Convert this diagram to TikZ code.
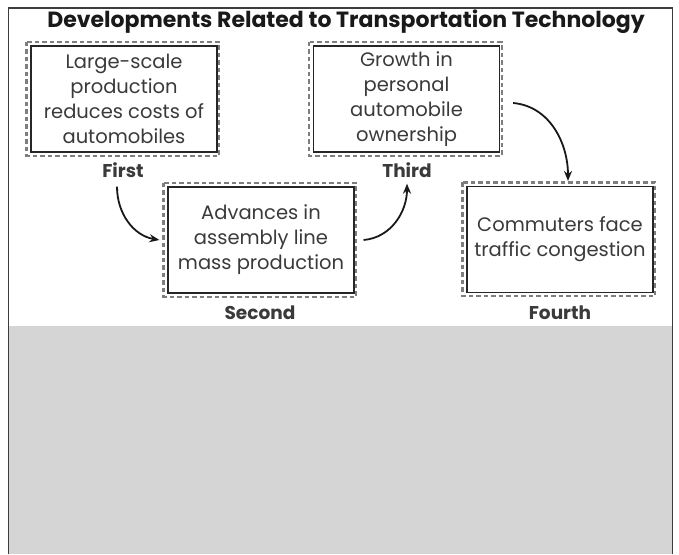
\documentclass[tikz,border=0pt]{standalone}
\usepackage{fontspec}
\setmainfont{Poppins}
\usetikzlibrary{arrows.meta}
\definecolor{txtcol}{HTML}{3A3A3A}
\definecolor{framecol}{HTML}{3C3C3C}
\definecolor{dashgray}{HTML}{7E7E7E}
\definecolor{lowgray}{HTML}{D5D5D5}
\begin{document}
\begin{tikzpicture}[x=1pt,y=-1pt,
  box/.style={draw=black!85, line width=1.2pt, minimum width=186pt, minimum height=106pt,
    align=center, text=txtcol, font=\fontsize{19.5}{25}\selectfont, inner sep=0pt},
  lab/.style={font=\bfseries\fontsize{18.5}{20}\selectfont, text=txtcol, inner sep=0pt},
  conn/.style={line width=1.8pt, draw=black!90, -{Stealth[length=10pt,width=8pt]}},
  dashbox/.style={draw=dashgray, line width=2.2pt, dash pattern=on 4.5pt off 3pt}]
\useasboundingbox (0,0) rectangle (679,554);
\fill[white] (0,0) rectangle (679,554);
% shaded lower area
\fill[lowgray] (9,326) rectangle (672,554);
% frame
\draw[framecol, line width=1.5pt] (8.5,554) -- (8.5,8) -- (672.5,8) -- (672.5,554);
% title
\node[font=\bfseries\fontsize{22}{24}\selectfont, text=black!90] (title) at (346,22)
  {Developments Related to Transportation Technology};
% boxes
\node[box] (b1) at (124,99) {Large-scale\\production\\reduces costs of\\automobiles};
\node[box] (b2) at (261,240) {Advances in\\assembly line\\mass production};
\node[box] (b3) at (406.5,99) {Growth in\\personal\\automobile\\ownership};
\node[box] (b4) at (560,239.5) {Commuters face\\traffic congestion};
\foreach \b in {b1,b2,b3,b4}{
  \draw[dashbox] ([xshift=-4pt,yshift=3.5pt]\b.north west) rectangle ([xshift=1.5pt,yshift=-3pt]\b.south east);
}
% labels
\node[lab] (first) at (123,170) {First};
\node[lab] (second) at (260,313) {Second};
\node[lab] (third) at (407,170) {Third};
\node[lab] (fourth) at (560,313) {Fourth};
% connectors
\draw[conn] ([xshift=-6pt,yshift=-9pt]first.south) to[out=-90,in=170] ([xshift=-8pt]b2.west);
\draw[conn] ([xshift=9pt]b2.east) to[out=5,in=-90] ([yshift=-6pt]third.south);
\draw[conn] ([xshift=13pt,yshift=-4pt]b3.east) to[out=-5,in=90] ([xshift=8pt,yshift=5pt]b4.north);
\end{tikzpicture}
\end{document}
